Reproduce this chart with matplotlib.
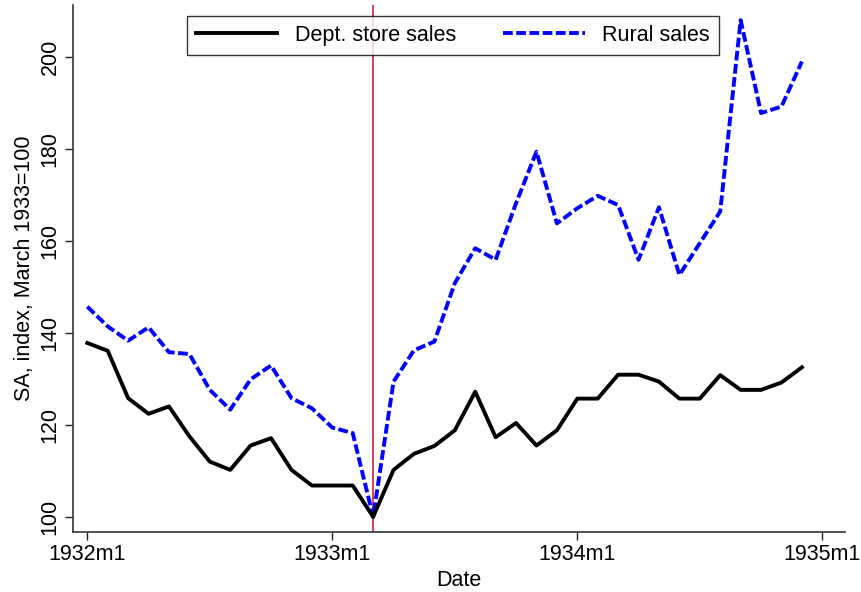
import numpy as np
import matplotlib.pyplot as plt

plt.rcParams['font.family'] = ['Liberation Sans', 'DejaVu Sans']

# monthly data, 1932m1 .. 1934m12 (months since 1932m1)
months = np.arange(36)
dept = [137.8, 136.1, 125.8, 122.4, 124.0, 117.5, 112.0, 110.2, 115.5, 117.1,
        110.2, 106.8, 106.8, 106.8, 100.0, 110.2, 113.7, 115.4, 118.8, 127.2,
        117.3, 120.4, 115.5, 118.8, 125.7, 125.7, 130.9, 130.9, 129.4, 125.7,
        125.7, 130.8, 127.6, 127.6, 129.2, 132.5]
rural = [145.7, 141.4, 138.3, 141.2, 135.8, 135.4, 127.6, 123.3, 129.9, 132.9,
         125.8, 123.6, 119.4, 118.2, 100.0, 129.4, 136.2, 138.1, 150.8, 158.4,
         155.9, 168.2, 179.4, 163.8, 167.1, 169.8, 167.8, 155.9, 167.3, 152.6,
         159.5, 166.4, 208.0, 187.8, 189.2, 199.0]
event_month = 14  # 1933m3

xticks = [0, 12, 24, 36]
xticklabels = ['1932m1', '1933m1', '1934m1', '1935m1']
yticks = [100, 120, 140, 160, 180, 200]

fig = plt.figure(figsize=(8.62, 5.92), dpi=100)
ax = fig.add_axes([0.0847, 0.1014, 0.8953, 0.8902])

ax.axvline(event_month, color='#c4112f', lw=1.1, zorder=1)
ax.plot(months, dept, color='black', lw=2.8, label='Dept. store sales', zorder=3)
ax.plot(months, rural, color='blue', lw=2.8, ls=(0, (2.5, 0.9)), label='Rural sales', zorder=2)

ax.set_xlim(-0.7, 37.1)
ax.set_ylim(96.7, 211.3)
ax.set_xticks(xticks)
ax.set_xticklabels(xticklabels)
ax.set_yticks(yticks)
ax.set_yticklabels([str(v) for v in yticks], rotation=90, va='center')

ax.tick_params(direction='out', length=6, width=1, colors='#222222', labelsize=15.5,
               labelcolor='black', pad=3)
ax.spines['top'].set_visible(False)
ax.spines['right'].set_visible(False)
for s in ['left', 'bottom']:
    ax.spines[s].set_color('#333333')
    ax.spines[s].set_linewidth(1.2)

ax.set_xlabel('Date', fontsize=15.5, labelpad=3)
ax.set_ylabel('SA, index, March 1933=100', fontsize=15.5, labelpad=3)

leg = ax.legend(loc='upper center', bbox_to_anchor=(0.492, 1.0), ncol=2, fontsize=15.5,
                frameon=True, fancybox=False, edgecolor='black', handlelength=3.8,
                columnspacing=2.2, borderpad=0.42)
leg.get_frame().set_linewidth(1.0)

fig.savefig('out.png', dpi=100)
